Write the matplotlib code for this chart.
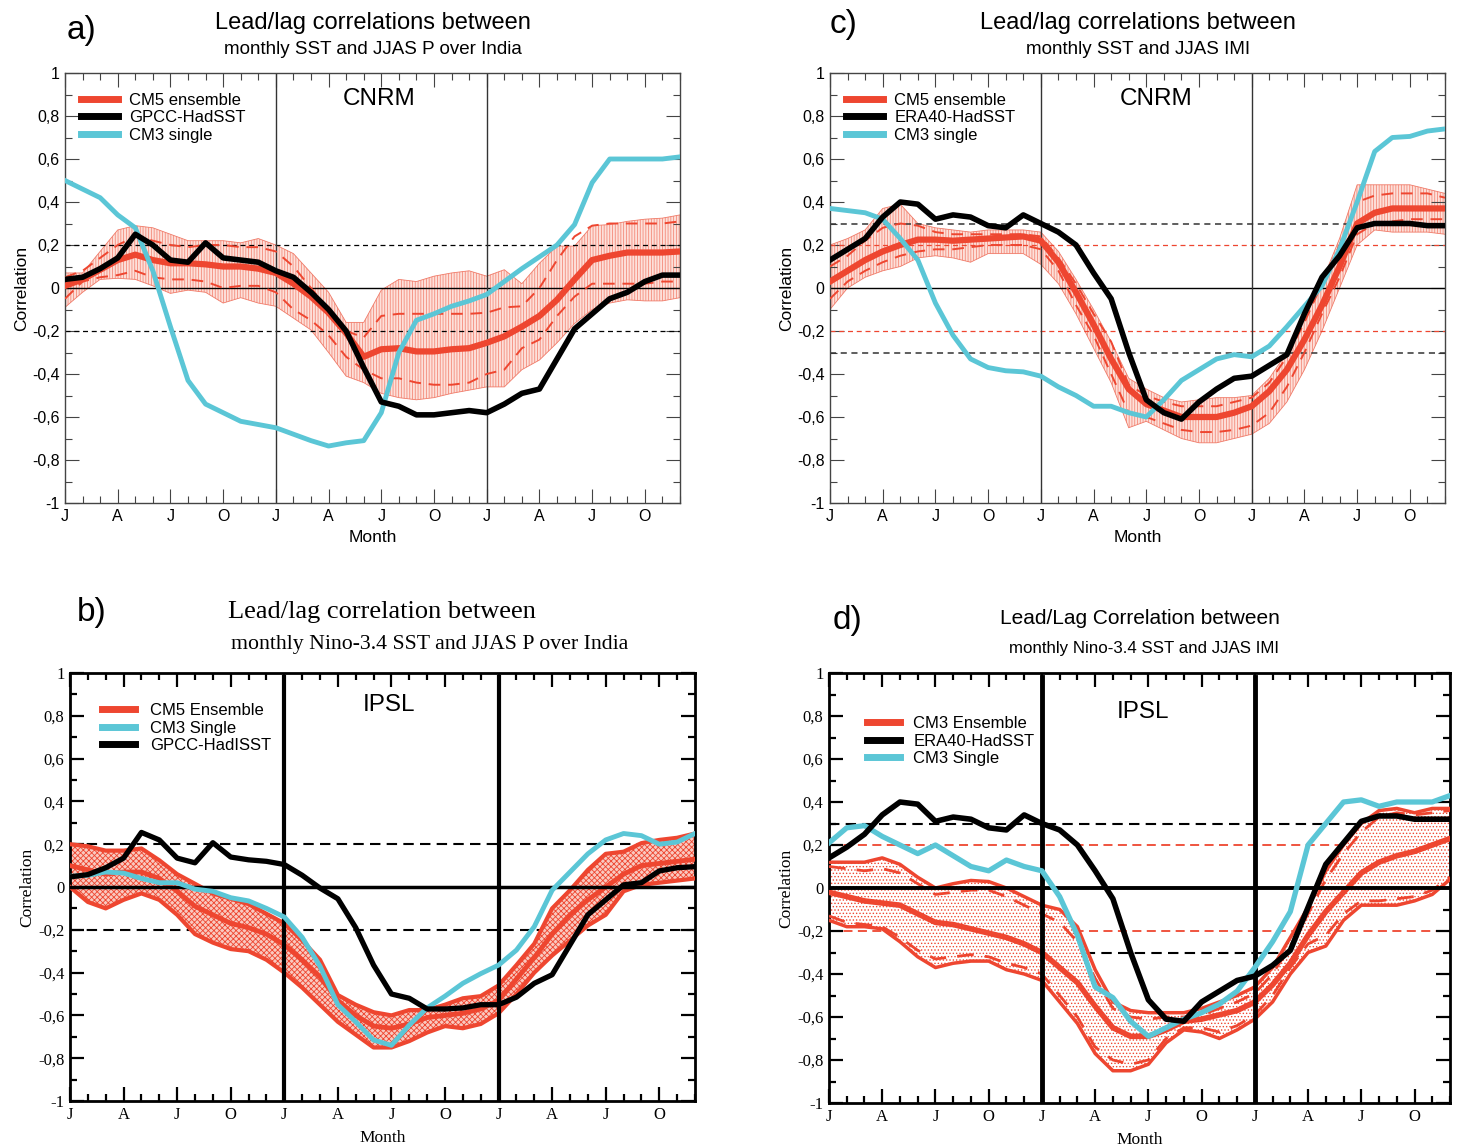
import numpy as np
import matplotlib
matplotlib.use("Agg")
import matplotlib.pyplot as plt
from matplotlib.ticker import MultipleLocator, FuncFormatter
from matplotlib.lines import Line2D

plt.rcParams['axes.unicode_minus'] = False
plt.rcParams['hatch.linewidth'] = 0.6

W, H = 1462, 1146
months = np.arange(36)
month_ticks = ['J', 'A', 'J', 'O'] * 3

RED = '#ee4630'
CYAN = '#5bc6d6'
SANS = 'Liberation Sans'
SERIF = 'Liberation Serif'

# ---- a) CNRM, monthly SST vs JJAS P over India ----
a_ens = [0.01, 0.04, 0.085, 0.13, 0.155, 0.13, 0.115, 0.115, 0.11, 0.10, 0.10, 0.09,
         0.07, 0.02, -0.04, -0.115, -0.21, -0.32, -0.285, -0.28, -0.295, -0.295, -0.285, -0.28,
         -0.255, -0.225, -0.18, -0.13, -0.055, 0.04, 0.13, 0.15, 0.165, 0.165, 0.165, 0.17]
a_hi = [0.07, 0.07, 0.17, 0.27, 0.29, 0.28, 0.25, 0.22, 0.22, 0.22, 0.21, 0.23,
        0.20, 0.16, 0.07, -0.02, -0.16, -0.16, -0.01, 0.04, 0.03, 0.055, 0.07, 0.08,
        0.055, 0.085, 0.02, 0.115, 0.195, 0.195, 0.29, 0.295, 0.31, 0.32, 0.325, 0.34]
a_lo = [-0.09, -0.02, 0.04, 0.045, 0.04, 0.01, -0.025, -0.01, -0.02, -0.07, -0.045, -0.07,
        -0.085, -0.14, -0.195, -0.30, -0.41, -0.44, -0.49, -0.51, -0.52, -0.51, -0.49, -0.475,
        -0.46, -0.46, -0.38, -0.335, -0.255, -0.165, -0.10, -0.07, -0.055, -0.06, -0.06, -0.045]
a_dhi = [0.05, 0.08, 0.14, 0.20, 0.24, 0.22, 0.20, 0.19, 0.20, 0.20, 0.19, 0.19,
         0.17, 0.10, 0.0, -0.10, -0.20, -0.23, -0.13, -0.12, -0.12, -0.12, -0.12, -0.12,
         -0.115, -0.09, -0.085, 0.0, 0.13, 0.24, 0.29, 0.30, 0.30, 0.30, 0.30, 0.31]
a_dlo = [-0.05, 0.03, 0.05, 0.06, 0.08, 0.05, 0.04, 0.04, 0.03, 0.0, 0.01, 0.01,
         -0.02, -0.10, -0.15, -0.22, -0.32, -0.38, -0.42, -0.42, -0.44, -0.45, -0.45, -0.44,
         -0.40, -0.38, -0.28, -0.24, -0.13, -0.04, 0.02, 0.02, 0.02, 0.02, 0.03, 0.03]
a_obs = [0.04, 0.05, 0.09, 0.14, 0.25, 0.20, 0.13, 0.12, 0.21, 0.14, 0.13, 0.12,
         0.08, 0.05, -0.02, -0.10, -0.20, -0.37, -0.53, -0.55, -0.59, -0.59, -0.58, -0.57,
         -0.58, -0.54, -0.49, -0.47, -0.33, -0.19, -0.12, -0.05, -0.02, 0.03, 0.06, 0.06]
a_cm3 = [0.50, 0.46, 0.42, 0.34, 0.28, 0.08, -0.18, -0.43, -0.54, -0.58, -0.62, -0.635,
         -0.65, -0.68, -0.71, -0.735, -0.72, -0.71, -0.58, -0.30, -0.15, -0.12, -0.085, -0.06,
         -0.03, 0.03, 0.09, 0.145, 0.20, 0.295, 0.49, 0.60, 0.60, 0.60, 0.60, 0.61]

# ---- c) CNRM, monthly SST vs JJAS IMI ----
c_ens = [0.03, 0.08, 0.13, 0.17, 0.20, 0.225, 0.225, 0.22, 0.225, 0.23, 0.235, 0.24,
         0.22, 0.12, -0.02, -0.17, -0.33, -0.47, -0.54, -0.57, -0.60, -0.60, -0.60, -0.58,
         -0.55, -0.48, -0.38, -0.24, -0.08, 0.10, 0.30, 0.35, 0.37, 0.37, 0.37, 0.37]
c_hi = [0.20, 0.23, 0.27, 0.37, 0.39, 0.30, 0.28, 0.27, 0.26, 0.27, 0.27, 0.27,
        0.26, 0.17, 0.04, -0.10, -0.25, -0.42, -0.47, -0.51, -0.53, -0.52, -0.51, -0.51,
        -0.50, -0.42, -0.30, -0.14, 0.03, 0.23, 0.48, 0.48, 0.48, 0.48, 0.46, 0.44]
c_lo = [-0.10, 0.0, 0.05, 0.08, 0.10, 0.14, 0.15, 0.14, 0.12, 0.16, 0.16, 0.16,
        0.11, 0.02, -0.12, -0.28, -0.44, -0.65, -0.62, -0.66, -0.70, -0.72, -0.72, -0.70,
        -0.68, -0.63, -0.53, -0.38, -0.20, 0.0, 0.20, 0.27, 0.26, 0.26, 0.26, 0.25]
c_dhi = [0.10, 0.15, 0.22, 0.28, 0.30, 0.29, 0.26, 0.25, 0.25, 0.25, 0.25, 0.25,
         0.24, 0.14, 0.02, -0.12, -0.25, -0.45, -0.50, -0.53, -0.55, -0.55, -0.55, -0.53,
         -0.51, -0.44, -0.32, -0.16, 0.02, 0.20, 0.40, 0.43, 0.44, 0.44, 0.44, 0.42]
c_dlo = [-0.05, 0.03, 0.08, 0.12, 0.15, 0.17, 0.18, 0.18, 0.19, 0.20, 0.20, 0.20,
         0.18, 0.08, -0.08, -0.22, -0.40, -0.58, -0.60, -0.63, -0.66, -0.67, -0.67, -0.66,
         -0.64, -0.58, -0.46, -0.30, -0.12, 0.05, 0.25, 0.30, 0.31, 0.32, 0.32, 0.32]
c_obs = [0.13, 0.18, 0.23, 0.33, 0.40, 0.39, 0.32, 0.34, 0.33, 0.29, 0.28, 0.34,
         0.30, 0.26, 0.20, 0.07, -0.05, -0.30, -0.52, -0.58, -0.61, -0.53, -0.47, -0.42,
         -0.41, -0.36, -0.31, -0.12, 0.05, 0.15, 0.28, 0.30, 0.30, 0.30, 0.29, 0.29]
c_cm3 = [0.37, 0.36, 0.35, 0.32, 0.23, 0.13, -0.07, -0.22, -0.33, -0.37, -0.385, -0.39,
         -0.41, -0.46, -0.50, -0.55, -0.55, -0.58, -0.60, -0.52, -0.43, -0.38, -0.33, -0.31,
         -0.32, -0.27, -0.18, -0.085, 0.01, 0.18, 0.40, 0.635, 0.70, 0.705, 0.73, 0.74]

# ---- b) IPSL, Nino-3.4 SST vs JJAS P over India ----
b_ens = [0.10, 0.08, 0.06, 0.07, 0.07, 0.04, -0.02, -0.09, -0.13, -0.17, -0.19, -0.22,
         -0.27, -0.34, -0.42, -0.53, -0.60, -0.65, -0.66, -0.64, -0.61, -0.60, -0.59, -0.57,
         -0.53, -0.43, -0.33, -0.22, -0.13, -0.06, 0.0, 0.06, 0.10, 0.11, 0.12, 0.13]
b_hi = [0.20, 0.19, 0.17, 0.17, 0.18, 0.125, 0.06, 0.015, -0.03, -0.055, -0.08, -0.125,
        -0.17, -0.25, -0.34, -0.505, -0.55, -0.585, -0.60, -0.575, -0.575, -0.55, -0.52, -0.51,
        -0.46, -0.365, -0.265, -0.10, -0.015, 0.08, 0.155, 0.165, 0.205, 0.22, 0.23, 0.25]
b_lo = [0.0, -0.07, -0.10, -0.06, -0.03, -0.06, -0.13, -0.22, -0.26, -0.29, -0.30, -0.34,
        -0.40, -0.47, -0.55, -0.63, -0.69, -0.75, -0.75, -0.72, -0.68, -0.65, -0.66, -0.64,
        -0.59, -0.50, -0.40, -0.32, -0.25, -0.18, -0.13, -0.02, 0.01, 0.02, 0.03, 0.04]
b_obs = [0.047, 0.058, 0.09, 0.135, 0.255, 0.22, 0.135, 0.113, 0.207, 0.14, 0.127, 0.12,
         0.105, 0.055, -0.005, -0.055, -0.19, -0.365, -0.50, -0.52, -0.57, -0.57, -0.565, -0.55,
         -0.55, -0.515, -0.45, -0.41, -0.27, -0.13, -0.06, 0.01, 0.02, 0.075, 0.09, 0.095]
b_cm3 = [0.05, 0.055, 0.07, 0.065, 0.04, 0.02, 0.02, -0.01, -0.02, -0.05, -0.065, -0.10,
         -0.14, -0.235, -0.37, -0.55, -0.63, -0.715, -0.74, -0.645, -0.565, -0.51, -0.45, -0.405,
         -0.365, -0.295, -0.185, -0.015, 0.07, 0.155, 0.22, 0.25, 0.24, 0.20, 0.21, 0.25]

# ---- d) IPSL, Nino-3.4 SST vs JJAS IMI ----
d_ens = [-0.02, -0.04, -0.06, -0.07, -0.08, -0.12, -0.16, -0.17, -0.19, -0.21, -0.23, -0.26,
         -0.30, -0.37, -0.44, -0.55, -0.65, -0.69, -0.69, -0.66, -0.62, -0.61, -0.59, -0.57,
         -0.53, -0.45, -0.35, -0.22, -0.11, -0.02, 0.07, 0.12, 0.15, 0.17, 0.20, 0.23]
d_hi = [0.12, 0.12, 0.12, 0.14, 0.11, 0.05, 0.0, 0.02, 0.035, 0.03, 0.0, -0.04,
        -0.08, -0.10, -0.18, -0.38, -0.53, -0.57, -0.58, -0.58, -0.58, -0.56, -0.53, -0.50,
        -0.46, -0.37, -0.23, -0.09, 0.08, 0.20, 0.30, 0.36, 0.37, 0.35, 0.37, 0.37]
d_lo = [-0.15, -0.18, -0.18, -0.19, -0.25, -0.32, -0.37, -0.35, -0.34, -0.34, -0.38, -0.40,
        -0.43, -0.53, -0.63, -0.77, -0.85, -0.85, -0.82, -0.72, -0.66, -0.67, -0.70, -0.66,
        -0.61, -0.53, -0.40, -0.30, -0.27, -0.15, -0.08, -0.08, -0.08, -0.06, -0.03, 0.04]
d_dhi = [0.10, 0.09, 0.08, 0.09, 0.07, 0.02, -0.03, -0.02, -0.01, -0.01, -0.04, -0.08,
         -0.12, -0.16, -0.25, -0.42, -0.56, -0.60, -0.61, -0.60, -0.60, -0.59, -0.56, -0.53,
         -0.49, -0.40, -0.27, -0.12, 0.04, 0.16, 0.26, 0.33, 0.35, 0.34, 0.35, 0.36]
d_dlo = [-0.13, -0.16, -0.17, -0.18, -0.23, -0.29, -0.33, -0.32, -0.31, -0.32, -0.35, -0.37,
         -0.40, -0.50, -0.60, -0.74, -0.80, -0.82, -0.80, -0.70, -0.65, -0.65, -0.67, -0.64,
         -0.59, -0.50, -0.37, -0.26, -0.22, -0.12, -0.06, -0.06, -0.05, -0.04, -0.01, 0.05]
d_obs = [0.14, 0.19, 0.25, 0.34, 0.40, 0.39, 0.31, 0.33, 0.32, 0.28, 0.27, 0.34,
         0.30, 0.27, 0.20, 0.08, -0.05, -0.30, -0.52, -0.61, -0.62, -0.53, -0.48, -0.43,
         -0.41, -0.36, -0.29, -0.09, 0.11, 0.21, 0.31, 0.335, 0.335, 0.32, 0.32, 0.32]
d_cm3 = [0.21, 0.28, 0.29, 0.24, 0.20, 0.16, 0.20, 0.15, 0.10, 0.08, 0.13, 0.10,
         0.08, -0.04, -0.22, -0.46, -0.51, -0.62, -0.69, -0.65, -0.61, -0.58, -0.54, -0.48,
         -0.37, -0.25, -0.11, 0.20, 0.30, 0.40, 0.41, 0.38, 0.40, 0.40, 0.40, 0.43]


def corr_fmt(v, pos):
    if abs(v) < 1e-9:
        return '0'
    if abs(abs(v) - 1) < 1e-9:
        return '%d' % round(v)
    return ('%.1f' % v).replace('.', ',')


def add_panel(box, tickfont, bold_frame):
    # box given in pixels: left, top, right, bottom
    l, t, r, b = box
    ax = fig.add_axes([l / W, 1 - b / H, (r - l) / W, (b - t) / H])
    ax.set_xlim(0, 35)
    ax.set_ylim(-1, 1)
    ax.xaxis.set_minor_locator(MultipleLocator(1))
    ax.yaxis.set_major_locator(MultipleLocator(0.2))
    ax.yaxis.set_minor_locator(MultipleLocator(0.1))
    ax.set_xticks(np.arange(0, 36, 3))
    ax.set_xticklabels(month_ticks)
    ax.yaxis.set_major_formatter(FuncFormatter(corr_fmt))
    lw = 2.0 if bold_frame else 1.0
    col = 'black' if bold_frame else '#444444'
    size = 12 if bold_frame else 11.5
    ax.tick_params(which='both', direction='in', top=True, right=True,
                   width=lw * 0.8, color=col, labelsize=size, pad=4)
    ax.tick_params(which='major', length=10)
    ax.tick_params(which='minor', length=5)
    for s in ax.spines.values():
        s.set_linewidth(lw)
        s.set_color(col)
    for lab in ax.get_xticklabels() + ax.get_yticklabels():
        lab.set_family(tickfont)
    ax.set_xlabel('Month', family=tickfont, fontsize=12.5, labelpad=5)
    ax.set_ylabel('Correlation', family=tickfont, fontsize=12.5, labelpad=2)
    return ax


def fig_text(x, y, s, **kw):
    fig.text(x / W, 1 - y / H, s, **kw)


fig = plt.figure(figsize=(W / 100, H / 100), dpi=100)

# ---------------- panel a ----------------
ax = add_panel((65, 73, 680, 503), SANS, False)
ax.fill_between(months, a_lo, a_hi, facecolor='#fde0da', edgecolor='#f48b7a',
                hatch='||||||', linewidth=0, zorder=1)
ax.plot(months, a_hi, color='#f07a68', lw=0.6, zorder=2)
ax.plot(months, a_lo, color='#f07a68', lw=0.6, zorder=2)
ax.plot(months, a_dhi, color=RED, lw=1.4, ls=(0, (6, 4)), zorder=3)
ax.plot(months, a_dlo, color=RED, lw=1.4, ls=(0, (6, 4)), zorder=3)
for yv in (0.2, -0.2):
    ax.axhline(yv, color='black', lw=0.9, ls=(0, (4, 3)), zorder=2)
ax.axhline(0, color='black', lw=1.0, zorder=2)
for xv in (12, 24):
    ax.axvline(xv, color='#333333', lw=1.0, zorder=2)
ax.plot(months, a_ens, color=RED, lw=4.5, zorder=4)
ax.plot(months, a_cm3, color=CYAN, lw=3.5, zorder=5)
ax.plot(months, a_obs, color='black', lw=4.0, zorder=6)
ax.text(0.51, 0.94, 'CNRM', transform=ax.transAxes, ha='center', va='center',
        family=SANS, fontsize=17.5)
handles = [Line2D([], [], color=RED, lw=5), Line2D([], [], color='black', lw=5),
           Line2D([], [], color=CYAN, lw=5)]
ax.legend(handles, ['CM5 ensemble', 'GPCC-HadSST', 'CM3 single'], loc='upper left',
          bbox_to_anchor=(0.015, 0.97), frameon=False, handlelength=2.2,
          handletextpad=0.7, labelspacing=0.15, borderaxespad=0,
          prop={'family': SANS, 'size': 12})
fig_text(82, 30, 'a)', ha='center', va='center', family=SANS, fontsize=24)
fig_text(373, 23, 'Lead/lag correlations between', ha='center', va='center',
         family=SANS, fontsize=17)
fig_text(373, 50, 'monthly SST and JJAS P over India', ha='center', va='center',
         family=SANS, fontsize=13.5)

# ---------------- panel c ----------------
ax = add_panel((830, 73, 1445, 503), SANS, False)
ax.fill_between(months, c_lo, c_hi, facecolor='#fde0da', edgecolor='#f48b7a',
                hatch='||||||', linewidth=0, zorder=1)
ax.plot(months, c_hi, color='#f07a68', lw=0.6, zorder=2)
ax.plot(months, c_lo, color='#f07a68', lw=0.6, zorder=2)
ax.plot(months, c_dhi, color=RED, lw=1.4, ls=(0, (6, 4)), zorder=3)
ax.plot(months, c_dlo, color=RED, lw=1.4, ls=(0, (6, 4)), zorder=3)
for yv in (0.3, -0.3):
    ax.axhline(yv, color='#333333', lw=1.1, ls=(0, (4, 3)), zorder=2)
for yv in (0.2, -0.2):
    ax.axhline(yv, color=RED, lw=0.9, ls=(0, (4, 3)), zorder=2)
ax.axhline(0, color='black', lw=1.0, zorder=2)
for xv in (12, 24):
    ax.axvline(xv, color='#333333', lw=1.0, zorder=2)
ax.plot(months, c_ens, color=RED, lw=4.5, zorder=4)
ax.plot(months, c_cm3, color=CYAN, lw=3.5, zorder=5)
ax.plot(months, c_obs, color='black', lw=4.0, zorder=6)
ax.text(0.53, 0.94, 'CNRM', transform=ax.transAxes, ha='center', va='center',
        family=SANS, fontsize=17.5)
ax.legend(handles, ['CM5 ensemble', 'ERA40-HadSST', 'CM3 single'], loc='upper left',
          bbox_to_anchor=(0.015, 0.97), frameon=False, handlelength=2.2,
          handletextpad=0.7, labelspacing=0.15, borderaxespad=0,
          prop={'family': SANS, 'size': 12})
fig_text(844, 25, 'c)', ha='center', va='center', family=SANS, fontsize=24)
fig_text(1138, 23, 'Lead/lag correlations between', ha='center', va='center',
         family=SANS, fontsize=17)
fig_text(1138, 50, 'monthly SST and JJAS IMI', ha='center', va='center',
         family=SANS, fontsize=13.5)

# ---------------- panel b ----------------
ax = add_panel((70, 673, 695, 1101), SERIF, True)
for yv in (0.2, -0.2):
    ax.axhline(yv, color='black', lw=1.5, ls=(0, (5, 3)), zorder=1)
ax.fill_between(months, b_lo, b_hi, facecolor='#f9c9c0', edgecolor=RED,
                hatch='xxxxxx', linewidth=0, zorder=2)
ax.plot(months, b_hi, color=RED, lw=3.0, zorder=3)
ax.plot(months, b_lo, color=RED, lw=3.0, zorder=3)
ax.plot(months, b_ens, color=RED, lw=3.5, zorder=3)
ax.axhline(0, color='black', lw=2.5, zorder=4)
for xv in (12, 24):
    ax.axvline(xv, ymax=0.99, color='black', lw=3.0, zorder=4)
ax.plot(months, b_cm3, color=CYAN, lw=3.5, zorder=5)
ax.plot(months, b_obs, color='black', lw=3.8, zorder=6)
ax.text(0.51, 0.925, 'IPSL', transform=ax.transAxes, ha='center', va='center',
        family=SANS, fontsize=17.5)
handles_b = [Line2D([], [], color=RED, lw=5), Line2D([], [], color=CYAN, lw=5),
             Line2D([], [], color='black', lw=5)]
ax.legend(handles_b, ['CM5 Ensemble', 'CM3 Single', 'GPCC-HadISST'], loc='upper left',
          bbox_to_anchor=(0.04, 0.945), frameon=False, handlelength=2.0,
          handletextpad=0.9, labelspacing=0.15, borderaxespad=0,
          prop={'family': SANS, 'size': 12})
fig_text(92, 612, 'b)', ha='center', va='center', family=SANS, fontsize=24)
fig_text(382, 612, 'Lead/lag correlation between', ha='center', va='center',
         family=SERIF, fontsize=19)
fig_text(430, 645, 'monthly Nino-3.4 SST and JJAS P over India', ha='center',
         va='center', family=SERIF, fontsize=15.7)

# ---------------- panel d ----------------
ax = add_panel((829, 673, 1450, 1103), SERIF, True)
ax.axhline(0.3, color='black', lw=1.5, ls=(0, (5, 3)), zorder=1)
ax.plot([5, 27], [-0.3, -0.3], color='black', lw=1.5, ls=(0, (5, 3)), zorder=1)
for yv in (0.2, -0.2):
    ax.axhline(yv, color=RED, lw=1.3, ls=(0, (5, 3)), zorder=1)
ax.fill_between(months, d_lo, d_hi, facecolor='white', edgecolor=RED,
                hatch='.....', linewidth=0, zorder=2)
ax.plot(months, d_hi, color=RED, lw=2.5, zorder=3)
ax.plot(months, d_lo, color=RED, lw=2.5, zorder=3)
ax.plot(months, d_dhi, color=RED, lw=2.0, ls=(0, (6, 4)), zorder=3)
ax.plot(months, d_dlo, color=RED, lw=2.0, ls=(0, (6, 4)), zorder=3)
ax.plot(months, d_ens, color=RED, lw=4.0, zorder=3)
ax.axhline(0, color='black', lw=2.8, zorder=4)
for xv in (12, 24):
    ax.axvline(xv, ymin=0.005, ymax=0.99, color='black', lw=3.5, zorder=4)
ax.plot(months, d_cm3, color=CYAN, lw=3.8, zorder=5)
ax.plot(months, d_obs, color='black', lw=4.0, zorder=6)
ax.text(0.505, 0.91, 'IPSL', transform=ax.transAxes, ha='center', va='center',
        family=SANS, fontsize=17.5)
handles_d = [Line2D([], [], color=RED, lw=5), Line2D([], [], color='black', lw=5),
             Line2D([], [], color=CYAN, lw=5)]
ax.legend(handles_d, ['CM3 Ensemble', 'ERA40-HadSST', 'CM3 Single'], loc='upper left',
          bbox_to_anchor=(0.05, 0.915), frameon=False, handlelength=2.0,
          handletextpad=0.8, labelspacing=0.15, borderaxespad=0,
          prop={'family': SANS, 'size': 12})
fig_text(848, 621, 'd)', ha='center', va='center', family=SANS, fontsize=24)
fig_text(1140, 618, 'Lead/Lag Correlation between', ha='center', va='center',
         family=SANS, fontsize=15)
fig_text(1144, 648, 'monthly Nino-3.4 SST and JJAS IMI', ha='center', va='center',
         family=SANS, fontsize=12.2)

fig.savefig('out.png', dpi=100)
